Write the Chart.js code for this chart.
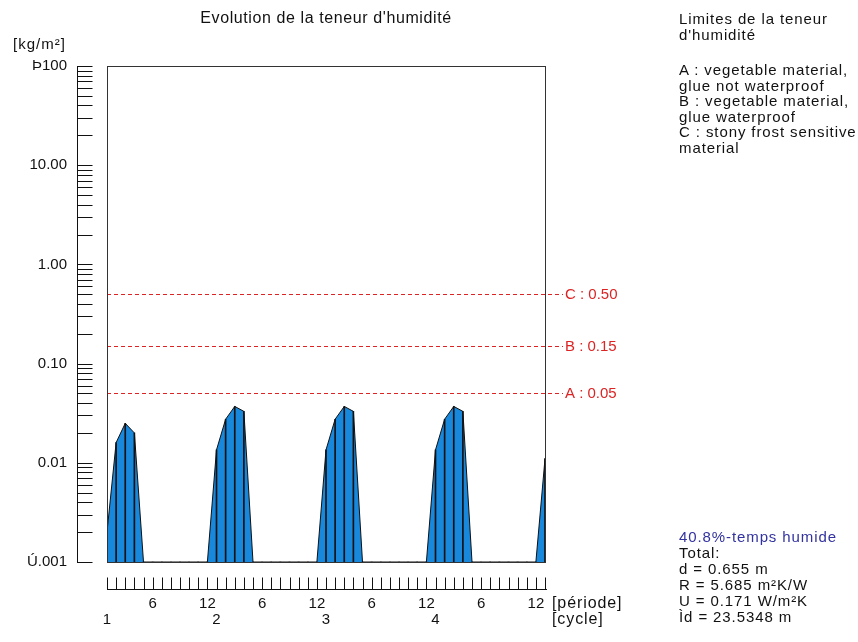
<!DOCTYPE html>
<html>
<head>
<meta charset="utf-8">
<script src="https://cdn.jsdelivr.net/npm/chart.js@4.4.1/dist/chart.umd.min.js"></script>
<style>
  html, body { margin: 0; padding: 0; background: #fff; }
  #wrap { position: relative; width: 858px; height: 642px; }
  canvas { position: absolute; left: 0; top: 0; }
  .note {
    position: absolute; left: 679px;
    font: 15px "Liberation Sans", Arial, sans-serif;
    letter-spacing: 0.9px; line-height: 15.5px; color: #111; white-space: pre;
  }
  #wet { color: #3232a0; }
</style>
</head>
<body>
<div id="wrap">
  <canvas id="chart" width="858" height="642"></canvas>
  <div class="note" id="limHead" style="top:11px"></div>
  <div class="note" id="limList" style="top:62px"></div>
  <div class="note" id="totals" style="top:529px; line-height:16px"></div>
</div>
<script>
// step index k = 0..48 (12 periods per cycle, 4 cycles)
const moisture = [
  0.002, 0.016, 0.025, 0.020, 0.001, 0.001, 0.001, 0.001, 0.001, 0.001, 0.001, 0.001,
  0.0135, 0.0275, 0.037, 0.033, 0.001, 0.001, 0.001, 0.001, 0.001, 0.001, 0.001, 0.001,
  0.0135, 0.0275, 0.037, 0.033, 0.001, 0.001, 0.001, 0.001, 0.001, 0.001, 0.001, 0.001,
  0.0135, 0.0275, 0.037, 0.033, 0.001, 0.001, 0.001, 0.001, 0.001, 0.001, 0.001, 0.001,
  0.011
];
const steps = moisture.map((v, k) => k);

const periodTicks = [5, 11, 17, 23, 29, 35, 41, 47];
const periodLabels = ['6', '12', '6', '12', '6', '12', '6', '12'];
const cycleTicks = [0, 12, 24, 36];
const cycleLabels = ['1', '2', '3', '4'];

const yTicks = [0.001, 0.01, 0.1, 1, 10, 100];
const yLabels = ['Ú.001', '0.01', '0.10', '1.00', '10.00', 'Þ100'];
const yMinor = [1, 2, 3, 4, 5, 6, 7, 8, 9];

const limitValues = [0.05, 0.15, 0.50];
const limitNames = ['A', 'B', 'C'];

const limitHead = ['Limites de la teneur', "d'humidité"];
const limitText = [
  'A : vegetable material,', 'glue not waterproof',
  'B : vegetable material,', 'glue waterproof',
  'C : stony frost sensitive', 'material'
];
const wetText = '40.8%-temps humide';
const totalText = ['Total:', 'd = 0.655 m', 'R = 5.685 m²K/W', 'U = 0.171 W/m²K', 'Ìd = 23.5348 m'];

document.getElementById('limHead').textContent = limitHead.join('\n');
document.getElementById('limList').textContent = limitText.join('\n');
document.getElementById('totals').innerHTML =
  '<span id="wet"></span>\n' + totalText.join('\n');
document.getElementById('wet').textContent = wetText;

const font = 'Liberation Sans, Arial, sans-serif';
const red = '#dc2424';
const ink = '#111';

const points = steps.map((k, i) => ({ x: k, y: moisture[i] }));

const decor = {
  id: 'decor',
  afterDraw(chart) {
    const { ctx, chartArea: a, scales: { x, y } } = chart;
    ctx.save();
    ctx.lineWidth = 1;

    // limit lines
    ctx.font = '15px ' + font;
    ctx.textBaseline = 'middle';
    ctx.textAlign = 'left';
    limitValues.forEach((v, i) => {
      const py = Math.round(y.getPixelForValue(v)) + 0.5;
      ctx.strokeStyle = red;
      ctx.fillStyle = red;
      ctx.setLineDash([4, 3]);
      ctx.beginPath();
      ctx.moveTo(a.left, py);
      ctx.lineTo(a.right + 18, py);
      ctx.stroke();
      ctx.setLineDash([]);
      ctx.fillText(limitNames[i] + ' : ' + v.toFixed(2), a.right + 20, py);
    });

    // frame
    ctx.strokeStyle = '#333';
    ctx.strokeRect(a.left + 0.5, a.top + 0.5, a.right - a.left, a.bottom - a.top);

    // y axis (detached)
    ctx.strokeStyle = ink;
    const ax = a.left - 29.5;
    ctx.beginPath();
    ctx.moveTo(ax, a.top);
    ctx.lineTo(ax, a.bottom + 1);
    y.ticks.forEach((t, i) => {
      const list = i < y.ticks.length - 1 ? yMinor : [1];
      list.forEach(m => {
        const py = Math.round(y.getPixelForValue(t.value * m)) + 0.5;
        ctx.moveTo(ax, py);
        ctx.lineTo(ax + 15, py);
      });
    });
    ctx.stroke();

    // x axis (detached)
    const by = a.bottom + 27.5;
    ctx.beginPath();
    ctx.moveTo(a.left, by);
    ctx.lineTo(a.right + 2, by);
    x.ticks.forEach(t => {
      const px = Math.round(x.getPixelForValue(t.value)) + 0.5;
      ctx.moveTo(px, by);
      ctx.lineTo(px, by - 12);
    });
    ctx.stroke();

    // texts
    ctx.fillStyle = ink;
    ctx.textAlign = 'center';
    ctx.font = '16px ' + font;
    ctx.letterSpacing = '0.6px';
    ctx.fillText("Evolution de la teneur d'humidité", (a.left + a.right) / 2, 19);
    ctx.textAlign = 'left';
    ctx.font = '15px ' + font;
    ctx.letterSpacing = '1px';
    ctx.fillText('[kg/m²]', 13, 45);
    ctx.font = '16px ' + font;
    ctx.letterSpacing = '0.9px';
    ctx.fillText('[période]', a.right + 7, a.bottom + 42);
    ctx.fillText('[cycle]', a.right + 7, a.bottom + 58);
    ctx.restore();
  }
};

new Chart(document.getElementById('chart'), {
  type: 'line',
  data: {
    datasets: [
      {
        type: 'bar',
        data: points,
        backgroundColor: ink,
        barThickness: 1,
        grouped: false,
        order: 0
      },
      {
        type: 'line',
        data: points,
        borderColor: ink,
        borderWidth: 1,
        backgroundColor: '#1888dc',
        fill: 'start',
        pointRadius: 0,
        tension: 0,
        order: 1
      }
    ]
  },
  options: {
    responsive: false,
    animation: false,
    layout: { padding: { left: 0, top: 66, right: 313, bottom: 0 } },
    plugins: {
      legend: { display: false },
      tooltip: { enabled: false },
      title: { display: false }
    },
    scales: {
      x: {
        type: 'linear',
        min: 0,
        max: 48,
        offset: false,
        afterBuildTicks: s => { s.ticks = steps.map(k => ({ value: k })); },
        afterFit: s => { s.height = 80; },
        grid: { display: false, drawTicks: false },
        border: { display: false },
        ticks: {
          autoSkip: false,
          maxRotation: 0,
          padding: 34,
          color: ink,
          font: { family: font, size: 15, lineHeight: '16px' },
          callback: v => {
            const p = periodTicks.indexOf(v);
            const c = cycleTicks.indexOf(v);
            return [p >= 0 ? periodLabels[p] : '', c >= 0 ? cycleLabels[c] : ''];
          }
        }
      },
      y: {
        type: 'logarithmic',
        min: 0.001,
        max: 100,
        afterBuildTicks: s => { s.ticks = yTicks.map(v => ({ value: v })); },
        afterFit: s => { s.width = 107; },
        grid: { display: false, drawTicks: false },
        border: { display: false },
        ticks: {
          padding: 40,
          color: ink,
          font: { family: font, size: 15 },
          callback: (v, i) => yLabels[i]
        }
      }
    }
  },
  plugins: [decor]
});
</script>
</body>
</html>
